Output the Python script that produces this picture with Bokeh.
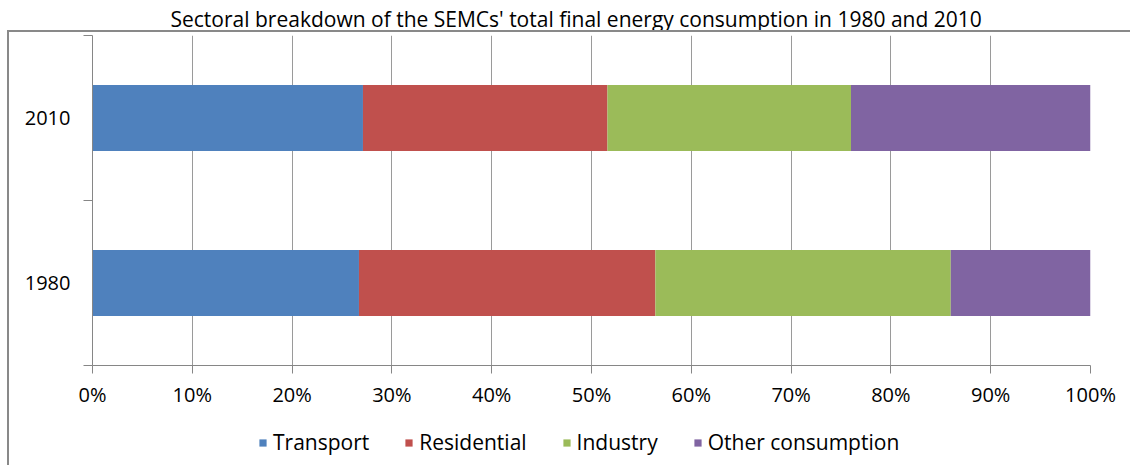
from bokeh.plotting import figure
from bokeh.layouts import column
from bokeh.models import (ColumnDataSource, FixedTicker, Legend, LegendItem,
                          Range1d, PrintfTickFormatter, InlineStyleSheet)
from bokeh.embed import file_html
from bokeh.resources import INLINE

# ---- data -------------------------------------------------------------
years = ["1980", "2010"]
sectors = ["Transport", "Residential", "Industry", "Other consumption"]
transport = [26.7, 27.1]
residential = [29.7, 24.5]
industry = [29.6, 24.4]
other = [14.0, 24.0]
x_ticks = [0, 10, 20, 30, 40, 50, 60, 70, 80, 90, 100]
title_text = "Sectoral breakdown of the SEMCs' total final energy consumption in 1980 and 2010"

# ---- style ------------------------------------------------------------
colors = ["#4F81BD", "#C0504D", "#9BBB59", "#8064A2"]
FONT = "Open Sans"
AXIS_GRAY = "#868686"
GRID_GRAY = "#9a9a9a"

p = figure(width=1130, height=410, output_backend="svg", toolbar_location=None,
           x_range=Range1d(0, 100), y_range=Range1d(0, len(years)),
           min_border_left=92, min_border_right=40, min_border_top=34,
           min_border_bottom=45)
p.outline_line_color = None
p.background_fill_color = "white"
p.border_fill_color = "white"

# title
p.title.text = title_text
p.title.align = "left"
p.title.offset = 78
p.title.standoff = 5
p.title.text_font = FONT
p.title.text_font_size = "21px"
p.title.text_font_style = "normal"
p.title.text_color = "#000000"

ypos = [i + 0.5 for i in range(len(years))]
source = ColumnDataSource(dict(y=ypos, Transport=transport, Residential=residential,
                               Industry=industry, Other=other))
stack_cols = ["Transport", "Residential", "Industry", "Other"]
renderers = p.hbar_stack(stack_cols, y="y", height=0.4, color=colors,
                         line_color=None, source=source)

# x axis
p.xaxis.ticker = FixedTicker(ticks=x_ticks)
p.xaxis.formatter = PrintfTickFormatter(format="%d%%")
p.xaxis.axis_line_color = AXIS_GRAY
p.xaxis.major_tick_line_color = AXIS_GRAY
p.xaxis.major_tick_out = 8
p.xaxis.major_tick_in = 0
p.xaxis.minor_tick_line_color = None
p.xaxis.major_label_standoff = 7
p.xaxis.major_label_text_font = FONT
p.xaxis.major_label_text_font_size = "20px"
p.xaxis.major_label_text_color = "#000000"

# y axis: labels at category centres, tick marks at category boundaries
p.yaxis.ticker = FixedTicker(ticks=ypos, minor_ticks=list(range(len(years) + 1)))
p.yaxis.major_label_overrides = {yv: yr for yv, yr in zip(ypos, years)}
p.yaxis.axis_line_color = AXIS_GRAY
p.yaxis.major_tick_line_color = None
p.yaxis.major_tick_out = 0
p.yaxis.major_tick_in = 0
p.yaxis.minor_tick_line_color = AXIS_GRAY
p.yaxis.minor_tick_out = 9
p.yaxis.minor_tick_in = 0
p.yaxis.major_label_standoff = 13
p.yaxis.major_label_text_font = FONT
p.yaxis.major_label_text_font_size = "20px"
p.yaxis.major_label_text_color = "#000000"

p.ygrid.visible = False
p.xgrid.grid_line_color = GRID_GRAY
p.xgrid.grid_line_width = 1

# ---- legend strip (own figure, legend lives inside its frame) -----------
pl = figure(width=1130, height=55, output_backend="svg", toolbar_location=None,
            x_range=Range1d(0, 100), y_range=Range1d(10, 11),
            x_axis_type=None, y_axis_type=None, min_border=0)
pl.outline_line_color = None
pl.background_fill_color = "white"
pl.border_fill_color = "white"
pl.grid.visible = False
leg_renderers = pl.hbar_stack(stack_cols, y="y", height=0.4, color=colors,
                              line_color=None, source=source)
items = [LegendItem(label=s, renderers=[r]) for s, r in zip(sectors, leg_renderers)]
legend = Legend(items=items, orientation="horizontal", location=(166, 9),
                label_text_font=FONT, label_text_font_size="21px",
                label_text_color="#000000", glyph_width=9, glyph_height=9,
                label_standoff=6, spacing=35, border_line_color=None,
                background_fill_alpha=0, padding=0, margin=0)
pl.add_layout(legend)

layout = column(p, pl, spacing=0)

# chart-area border (only its top and left edges fall inside the window)
layout.stylesheets = [InlineStyleSheet(css="""
:host::before {
  content: "";
  position: absolute;
  left: 7px; top: 30px; right: 0; bottom: 0;
  border-left: 2px solid #898989;
  border-top: 2px solid #898989;
  pointer-events: none;
  z-index: 10;
}
""")]

open("out.html", "w").write(file_html(layout, INLINE))
